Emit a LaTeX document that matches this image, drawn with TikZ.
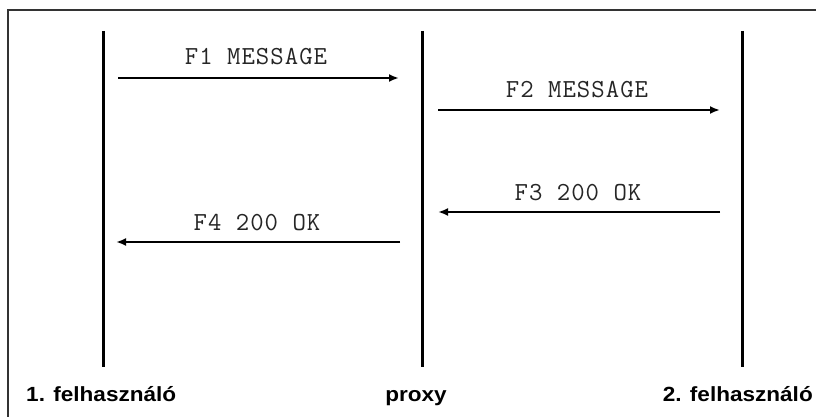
\documentclass[tikz,border=0pt]{standalone}
\usepackage{fontspec}
\setmainfont{Liberation Sans}
\newfontfamily\monof[LetterSpace=4]{Latin Modern Mono}
\usetikzlibrary{arrows.meta}
\begin{document}
\begin{tikzpicture}[x=1pt,y=-1pt,
  frameline/.style={draw=black!80,line width=1.3pt},
  lifeline/.style={draw=black,line width=3pt},
  msg/.style={draw=black,line width=2.4pt,-{Latex[length=10pt,width=8pt]}},
  msglabel/.style={anchor=base,inner sep=0pt,text=black!85,font=\monof\fontsize{26}{28}\selectfont},
  party/.style={inner sep=0pt,xscale=1.1,transform shape,font=\bfseries\fontsize{20.5}{23}\selectfont}]
\useasboundingbox (0,0) rectangle (816,417);
\fill[white] (0,0) rectangle (816,417);
\draw[frameline] (8,417) -- (8,10) -- (816,10);
% lifelines
\coordinate (aT) at (103,31);  \coordinate (aB) at (103,367);
\coordinate (pT) at (422,31);  \coordinate (pB) at (422,367);
\coordinate (bT) at (742,31);  \coordinate (bB) at (742,367);
\draw[lifeline] (aT) -- (aB);
\draw[lifeline] (pT) -- (pB);
\draw[lifeline] (bT) -- (bB);
% message end points
\coordinate (m1s) at (118,78);  \coordinate (m1e) at (399,78);
\coordinate (m2s) at (438,110); \coordinate (m2e) at (720,110);
\coordinate (m3s) at (720,212); \coordinate (m3e) at (438,212);
\coordinate (m4s) at (400,242); \coordinate (m4e) at (116,242);
\draw[msg] (m1s) -- (m1e);
\draw[msg] (m2s) -- (m2e);
\draw[msg] (m3s) -- (m3e);
\draw[msg] (m4s) -- (m4e);
% labels
\node[msglabel] (l1) at (256,65) {F1 MESSAGE};
\node[msglabel] (l2) at (577,98) {F2 MESSAGE};
\node[msglabel] (l3) at (578,200) {F3 200 OK};
\node[msglabel] (l4) at (257,230) {F4 200 OK};
% parties
\node[party,anchor=base west] (u1) at (26,401) {1. felhasználó};
\node[party,anchor=base] (px) at (416,401) {proxy};
\node[party,anchor=base east] (u2) at (813,401) {2. felhasználó};
\end{tikzpicture}
\end{document}
